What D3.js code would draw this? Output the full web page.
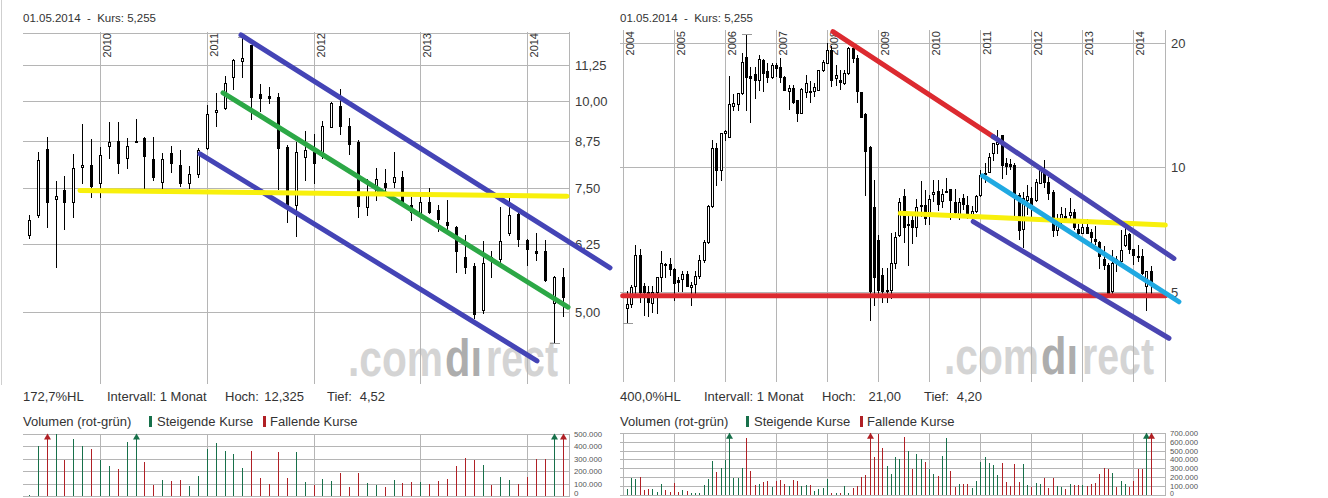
<!DOCTYPE html>
<html><head><meta charset="utf-8">
<script src="https://cdn.jsdelivr.net/npm/d3@7"></script>
<style>
html,body{margin:0;padding:0;background:#fff;}
svg{display:block;}
text{font-family:"Liberation Sans",Arial,sans-serif;}
</style></head><body>
<svg id="c" width="1328" height="498"></svg>
<script>
// ================= DATA =================
// Monthly candles Feb 2004 – May 2014; month index = months since Jan 2004
const firstMonth = 1;
const openPx = [4.56,4.67,5.15,6.14,5.17,4.99,4.71,4.99,5.42,5.83,5.83,5.67,5.34,5.36,5.51,5.13,5.22,5.47,5.97,6.61,8.06,11.12,9.85,12.10,11.86,14.07,14.23,15.10,18.51,16.63,16.82,16.26,18.19,17.13,16.55,17.67,17.51,16.55,15.32,15.57,14.55,13.51,15.23,15.32,15.32,15.38,17.20,17.84,19.21,16.41,16.26,15.97,16.89,19.41,18.36,15.23,13.45,11.22,8.03,6.67,5.49,5.03,5.05,5.86,
  6.87,8.53,7.24,7.46,7.17,8.05,8.10,7.63,8.62,8.76,8.29,8.74,8.85,8.26,7.66,8.43,8.10,7.63,7.86,8.56,9.63,9.76,10.80,11.39,12.00,10.23,10.16,10.13,8.59,7.10,8.32,8.45,8.35,9.17,9.83,9.20,8.73,7.05,7.39,7.63,7.66,7.78,7.10,6.92,7.17,6.98,6.72,6.61,5.99,5.82,5.03,5.99,5.95,6.48,6.89,6.33,6.11,6.11,5.15,5.61];
const highPx = [5.01,5.20,6.49,6.34,5.24,5.17,5.17,5.44,6.27,5.86,6.03,5.70,5.44,5.60,5.60,5.29,5.60,6.14,6.67,8.10,11.64,11.43,12.08,12.31,16.63,15.01,15.10,18.88,21.00,17.51,17.51,18.68,18.26,17.84,17.84,17.90,18.36,16.63,15.81,15.81,14.55,15.57,16.72,16.16,15.97,17.20,18.19,20.02,19.65,17.67,17.20,17.20,19.58,19.95,18.68,15.23,13.51,11.25,9.32,6.86,5.70,5.70,6.94,6.97,
  8.45,8.87,7.69,7.81,8.40,9.26,8.82,8.59,9.32,9.32,8.85,9.41,8.87,8.87,8.43,8.62,8.51,8.07,8.56,9.86,10.26,10.84,11.46,12.325,12.00,10.56,10.46,10.26,8.65,8.73,9.05,8.96,9.35,9.96,10.39,9.45,8.79,7.73,8.02,7.99,8.45,7.94,7.29,7.39,7.51,7.10,7.22,6.63,6.44,5.87,6.31,6.11,7.05,7.27,6.94,6.35,6.48,6.33,5.62,5.78];
const lowPx = [4.20,4.60,4.96,4.73,4.40,4.38,4.48,4.44,5.01,5.44,5.49,4.77,5.01,5.01,5.15,4.65,4.96,5.39,5.91,6.57,8.01,9.06,9.32,11.64,11.86,13.76,13.76,15.04,13.76,12.89,14.68,15.38,15.32,16.10,16.41,16.63,16.10,15.38,13.81,14.33,12.96,13.51,14.82,14.41,14.88,15.38,17.13,17.84,15.72,15.81,15.44,15.91,16.82,18.01,14.41,13.21,8.57,4.28,4.65,4.91,4.73,4.73,4.83,5.71,
  6.83,6.61,5.80,6.57,6.83,7.63,7.29,7.29,8.29,7.88,8.02,8.74,7.48,7.71,7.48,7.91,7.56,7.51,7.78,8.53,9.20,9.73,10.39,10.80,9.41,9.66,9.93,7.48,6.72,6.41,7.71,7.63,8.29,9.17,8.96,8.40,6.83,6.87,7.22,7.41,7.53,7.10,6.76,6.92,6.92,6.52,6.54,5.70,5.68,4.90,4.98,5.61,5.87,6.44,6.21,5.83,5.93,5.53,4.52,4.94];
const closePx = [4.67,5.13,6.14,4.99,4.99,4.73,4.99,5.42,5.86,5.79,5.68,5.24,5.29,5.51,5.15,5.20,5.47,5.97,6.61,8.06,11.12,9.85,12.08,12.24,14.20,14.28,15.10,17.95,16.55,16.41,16.26,18.26,16.94,16.55,17.67,17.34,16.51,15.38,15.57,14.41,13.51,15.47,15.97,15.18,15.61,17.20,18.01,19.21,16.26,16.72,16.08,16.94,19.41,18.36,15.32,13.21,10.97,5.01,5.44,5.05,5.01,5.06,5.87,6.80,
  8.23,7.17,7.31,7.17,8.02,8.10,7.56,8.37,8.73,8.15,8.62,8.77,8.35,7.78,8.26,8.15,7.63,7.86,8.51,9.57,9.69,10.60,11.42,11.50,10.13,10.09,10.09,8.56,7.05,8.45,8.51,8.15,9.20,9.93,9.20,8.68,7.07,7.41,7.73,7.53,7.78,7.17,6.94,7.17,6.94,6.79,6.65,6.11,5.80,4.97,5.87,5.92,6.31,6.87,6.35,6.15,6.07,5.55,5.61,5.255];
// monthly volume, thousands of shares
const volumeK = [64,195,176,198,56,64,64,37,124,56,30,131,37,56,45,19,19,26,112,176,382,258,300,393,760,
  195,195,303,644,273,112,120,142,157,94,157,169,120,101,169,161,101,112,112,45,64,82,184,19,26,19,101,19,75,101,206,230,
  800,431,690,532,326,232,431,
  400,655,500,290,456,400,376,288,240,219,435,644,272,88,128,123,128,80,160,376,427,363,333,224,363,144,96,352,147,352,
  115,88,133,123,187,75,187,104,88,69,128,107,115,115,96,120,139,240,307,288,251,88,155,128,93,155,293,293,760,820];

// left chart: 5-year window starting May 2009 (first month only partially covered)
const leftStartMonth = 64;
const leftFirstOpen = 6.44, leftFirstHigh = 6.87, leftFirstLow = 6.37, leftFirstClose = 6.75, leftFirstVolK = 8;

// axes
const leftYears = [2010, 2011, 2012, 2013, 2014];
const rightYears = [2004, 2005, 2006, 2007, 2008, 2009, 2010, 2011, 2012, 2013, 2014];
const leftPriceTicks = [5, 6.25, 7.5, 8.75, 10, 11.25, 12.5];
const leftPriceLabels = ["5,00", "6,25", "7,50", "8,75", "10,00", "11,25", ""];
const rightPriceTicks = [5, 10, 20];
const rightPriceLabels = ["5", "10", "20"];
const leftVolTicks = [0, 100000, 200000, 300000, 400000, 500000];
const rightVolTicks = [0, 100000, 200000, 300000, 400000, 500000, 600000, 700000];

// header / info texts
const titleText = "01.05.2014  -  Kurs: 5,255";
const leftInfo = ["172,7%HL", "Intervall: 1 Monat", "Hoch:", "12,325", "Tief:", "4,52"];
const rightInfo = ["400,0%HL", "Intervall: 1 Monat", "Hoch:", "21,00", "Tief:", "4,20"];
const legendTexts = ["Volumen (rot-grün)", "Steigende Kurse", "Fallende Kurse"];
const watermarkParts = [".com", "dı", "rect"];

// hand-drawn trend lines: [month, price] end points
const leftLineColors = ["#4444b6", "#4444b6", "#2ca846", "#f8f00c"];
const leftLineStarts = [[87.85, 12.40], [83.24, 8.40], [85.83, 10.26], [69.75, 7.45]];
const leftLineEnds   = [[129.33, 5.78], [121.12, 4.26], [124.61, 5.08], [124.50, 7.31]];
const rightLineColors = ["#dc2a30", "#dc2a30", "#f8f00c", "#4a45b2", "#4a45b2", "#20a9e2"];
const rightLineStarts = [[0, 4.89], [49.39, 21.28], [65.22, 7.74], [87.03, 11.86], [82.35, 7.39], [84.53, 9.54]];
const rightLineEnds   = [[127.5, 4.89], [87.03, 11.86], [127.47, 7.25], [129.5, 6.02], [128.33, 3.86], [130.67, 4.73]];

// ================= BUILD =================
const allCandles = openPx.map((o, i) => ({
  m: firstMonth + i, open: o, high: highPx[i], low: lowPx[i], close: closePx[i], vol: volumeK[i] * 1000
}));
const rightCandles = allCandles;
const leftCandles = allCandles.filter(d => d.m >= leftStartMonth).map(d => d.m === leftStartMonth
  ? {m: d.m, open: leftFirstOpen, high: leftFirstHigh, low: leftFirstLow, close: leftFirstClose, vol: leftFirstVolK * 1000}
  : d);

const deLocale = d3.formatLocale({decimal: ",", thousands: ".", grouping: [3], currency: ["", "€"]});
const fmtVol = deLocale.format(",");

const svg = d3.select("#c");
svg.append("rect").attr("width", 1328).attr("height", 498).attr("fill", "#fff");
svg.append("line").attr("x1", 1.5).attr("x2", 1.5).attr("y1", 0).attr("y2", 385)
  .attr("stroke", "#cfcfcf").attr("shape-rendering", "crispEdges");

function drawPanel(p) {
  const x = d3.scaleLinear().domain(p.mDomain).range([p.left, p.right]);
  const y = d3.scaleLog().domain(p.vDomain).range([p.bottom, p.top]);
  const cx = m => Math.round(x(m));
  const g = svg.append("g");
  const yearMonths = p.years.map(yr => (yr - 2004) * 12);

  // watermark (three separately tinted parts, horizontally condensed)
  const wmX = [-221, -124, -83], wmW = [95, 37, 72], wmC = ["#d4d4d4", "#adadad", "#d4d4d4"];
  g.selectAll(null).data(watermarkParts).join("text")
    .attr("font-size", 52).attr("font-weight", "bold")
    .attr("fill", (d, i) => wmC[i]).text(d => d)
    .each(function(d, i) {
      const w = this.getComputedTextLength();
      d3.select(this).attr("transform", `translate(${p.right + wmX[i]},${p.bottom - 8}) scale(${wmW[i] / w},1)`);
    });

  // grid
  const grid = g.append("g").attr("stroke", "#b5b5b5").attr("shape-rendering", "crispEdges");
  grid.selectAll(null).data(p.priceTicks).join("line")
    .attr("x1", p.left).attr("x2", p.right + 1)
    .attr("y1", d => Math.round(y(d)) + 0.5).attr("y2", d => Math.round(y(d)) + 0.5);
  grid.selectAll(null).data(yearMonths).join("line")
    .attr("x1", d => cx(d) + 0.5).attr("x2", d => cx(d) + 0.5)
    .attr("y1", p.gridTop).attr("y2", p.bottom);
  grid.append("line").attr("x1", p.right + 0.5).attr("x2", p.right + 0.5)
    .attr("y1", p.gridTop).attr("y2", p.bottom);

  // year labels
  g.selectAll(null).data(p.years).join("text")
    .attr("transform", (d, i) => `translate(${cx(yearMonths[i]) + 11},${p.gridTop + 1}) rotate(-90)`)
    .attr("text-anchor", "end").attr("font-size", 11).attr("fill", "#333").text(d => d);

  // price labels
  g.selectAll(null).data(p.priceTicks).join("text")
    .attr("x", p.right + 6).attr("y", d => Math.round(y(d)) + 5)
    .attr("font-size", 13).attr("fill", "#3a3a3a").text((d, i) => p.priceLabels[i]);

  // candles
  const cg = g.append("g").attr("shape-rendering", "crispEdges");
  cg.selectAll(null).data(p.candles).join("line")
    .attr("x1", d => cx(d.m) + 0.5).attr("x2", d => cx(d.m) + 0.5)
    .attr("y1", d => Math.round(y(d.high))).attr("y2", d => Math.round(y(d.low)) + 1)
    .attr("stroke", "#000");
  cg.selectAll(null).data(p.candles).join("rect")
    .attr("x", d => cx(d.m) - 0.5).attr("width", 2)
    .attr("y", d => Math.round(y(Math.max(d.open, d.close))) + 0.5)
    .attr("height", d => Math.max(1, Math.round(y(Math.min(d.open, d.close))) - Math.round(y(Math.max(d.open, d.close)))))
    .attr("fill", d => d.close >= d.open ? "#fff" : "#000").attr("stroke", "#000");

  // high / low markers
  const hi = p.candles.reduce((a, b) => b.high > a.high ? b : a);
  const lo = p.candles.reduce((a, b) => b.low < a.low ? b : a);
  g.selectAll(null).data([[hi.m, hi.high], [lo.m, lo.low]]).join("line")
    .attr("x1", d => cx(d[0]) - 4).attr("x2", d => cx(d[0]) + 6)
    .attr("y1", d => Math.round(y(d[1])) + 0.5).attr("y2", d => Math.round(y(d[1])) + 0.5)
    .attr("stroke", "#999").attr("shape-rendering", "crispEdges");

  // trend lines
  g.selectAll(null).data(p.lineColors).join("line")
    .attr("x1", (d, i) => x(p.lineStarts[i][0])).attr("y1", (d, i) => y(p.lineStarts[i][1]))
    .attr("x2", (d, i) => x(p.lineEnds[i][0])).attr("y2", (d, i) => y(p.lineEnds[i][1]))
    .attr("stroke", d => d).attr("stroke-width", p.lineWidth).attr("stroke-linecap", "round");

  // title
  g.append("text").attr("x", p.left).attr("y", 22).attr("font-size", 11.5)
    .attr("font-family", "'DejaVu Sans', Verdana, sans-serif").attr("fill", "#333")
    .style("white-space", "pre").text(titleText);

  // info line
  const infoX = [0, 84, 202, null, 304, null];
  const infoRight = [null, null, null, 281, null, 362];
  g.selectAll(null).data(p.info).join("text")
    .attr("x", (d, i) => p.left + (infoX[i] !== null ? infoX[i] : infoRight[i]))
    .attr("text-anchor", (d, i) => infoX[i] !== null ? "start" : "end")
    .attr("y", 400.5).attr("font-size", 13).attr("fill", "#333").text(d => d);

  // legend
  const lg = g.append("g").attr("font-size", 13).attr("fill", "#333");
  lg.append("text").attr("x", p.left).attr("y", 426).text(legendTexts[0]);
  lg.append("rect").attr("x", p.left + 126).attr("y", 416).attr("width", 3).attr("height", 11).attr("fill", "#17704a");
  lg.append("text").attr("x", p.left + 134).attr("y", 426).text(legendTexts[1]);
  lg.append("rect").attr("x", p.left + 240).attr("y", 416).attr("width", 3).attr("height", 11).attr("fill", "#b02025");
  lg.append("text").attr("x", p.left + 247).attr("y", 426).text(legendTexts[2]);

  // volume chart
  const vMax = p.volTicks[p.volTicks.length - 1];
  const yv = d3.scaleLinear().domain([0, vMax]).range([p.volBottom, p.volTop]);
  const vg = g.append("g").attr("stroke", "#b5b5b5").attr("shape-rendering", "crispEdges");
  vg.selectAll(null).data(p.volTicks).join("line")
    .attr("x1", p.left).attr("x2", p.right + 1)
    .attr("y1", d => Math.round(yv(d)) + 0.5).attr("y2", d => Math.round(yv(d)) + 0.5);
  vg.selectAll(null).data(yearMonths.concat([null])).join("line")
    .attr("x1", d => (d === null ? p.right : cx(d)) + 0.5).attr("x2", d => (d === null ? p.right : cx(d)) + 0.5)
    .attr("y1", p.volTop).attr("y2", p.volBottom);
  g.selectAll(null).data(p.volTicks).join("text")
    .attr("x", p.right + 5).attr("y", d => Math.min(Math.round(yv(d)) + p.volLabelDy, 496.3))
    .attr("font-size", p.volFont).attr("fill", "#555")
    .attr("textLength", d => d === 0 ? null : 28).attr("lengthAdjust", "spacingAndGlyphs")
    .text(d => fmtVol(d));
  const vb = g.append("g").attr("shape-rendering", "crispEdges");
  vb.selectAll(null).data(p.candles).join("line")
    .attr("x1", d => cx(d.m) + 0.5).attr("x2", d => cx(d.m) + 0.5)
    .attr("y1", p.volBottom).attr("y2", d => Math.round(yv(Math.min(d.vol, vMax))))
    .attr("stroke", d => d.close >= d.open ? "#17704a" : "#b02025");
  g.selectAll(null).data(p.candles.filter(d => d.vol > vMax)).join("path")
    .attr("d", d => { const c = cx(d.m) + 0.5, t = p.volTop; return `M${c},${t} L${c - 3.5},${t + 6} L${c + 3.5},${t + 6} Z`; })
    .attr("fill", d => d.close >= d.open ? "#17704a" : "#b02025");
}

drawPanel({
  candles: leftCandles, years: leftYears,
  left: 23, right: 569, top: 32, bottom: 384, gridTop: 32,
  mDomain: [63.344, 124.72], vDomain: [3.9487, 12.522],
  priceTicks: leftPriceTicks, priceLabels: leftPriceLabels,
  lineColors: leftLineColors, lineStarts: leftLineStarts, lineEnds: leftLineEnds, lineWidth: 5,
  info: leftInfo, volTicks: leftVolTicks, volTop: 433.5, volBottom: 496, volFont: 8, volLabelDy: 3
});
drawPanel({
  candles: rightCandles, years: rightYears,
  left: 620, right: 1165, top: 30, bottom: 382, gridTop: 30,
  mDomain: [-0.631, 127.40], vDomain: [3.0258, 21.479],
  priceTicks: rightPriceTicks, priceLabels: rightPriceLabels,
  lineColors: rightLineColors, lineStarts: rightLineStarts, lineEnds: rightLineEnds, lineWidth: 5,
  info: rightInfo, volTicks: rightVolTicks, volTop: 432.7, volBottom: 495, volFont: 7, volLabelDy: 2.5
});
</script>
</body></html>
